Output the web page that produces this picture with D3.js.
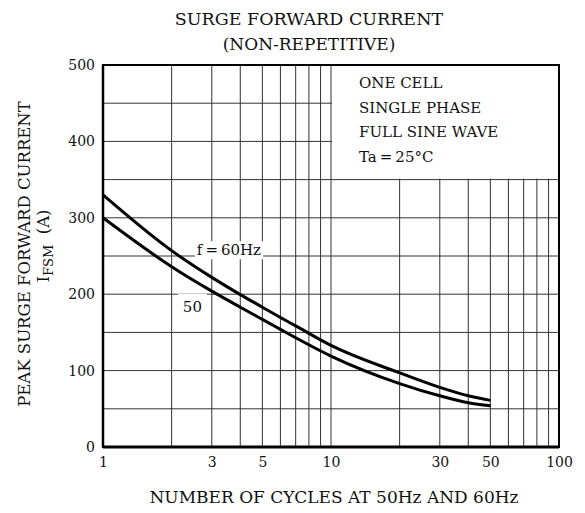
<!DOCTYPE html>
<html>
<head>
<meta charset="utf-8">
<script src="https://cdn.jsdelivr.net/npm/d3@7"></script>
<style>
  body { margin: 0; background: #fff; }
  text { font-family: "DejaVu Serif", "Liberation Serif", serif; fill: #111; }
</style>
</head>
<body>
<div id="chart"></div>
<script>
// surge current vs number of cycles
var cycles = [1, 2, 3, 4, 5, 6, 7, 10, 20, 30, 40, 50];
var ifsm60 = [330, 257, 222, 199.5, 183, 169.5, 158.5, 133, 97, 78, 67, 61];
var ifsm50 = [300, 236, 204, 183, 167, 154, 143, 119, 83, 67, 58, 54];

var xTicks = [1, 3, 5, 10, 30, 50, 100];
var yTicks = [0, 100, 200, 300, 400, 500];
var conditions = ["ONE CELL", "SINGLE PHASE", "FULL SINE WAVE", "Ta\u2009=\u200925\u00b0C"];

var svgWidth = 585, svgHeight = 513;
var margin = {top: 65, right: 26, bottom: 66, left: 103};
var width = svgWidth - margin.left - margin.right;
var height = svgHeight - margin.top - margin.bottom;

var svg = d3.select("#chart").append("svg")
  .attr("width", svgWidth)
  .attr("height", svgHeight);

var chartGroup = svg.append("g")
  .attr("transform", `translate(${margin.left}, ${margin.top})`);

var x = d3.scaleLog().domain([1, 100]).range([0, width]);
var y = d3.scaleLinear().domain([0, 500]).range([height, 0]);

// grid lines: every 50 A, and 1..9 per decade
var yGrid = d3.range(50, 500, 50);
var xGrid = [2, 3, 4, 5, 6, 7, 8, 9, 10, 20, 30, 40, 50, 60, 70, 80, 90];

chartGroup.append("g").selectAll("line")
  .data(yGrid).enter().append("line")
  .attr("x1", 0).attr("x2", width)
  .attr("y1", d => y(d)).attr("y2", d => y(d))
  .attr("stroke", "#333").attr("stroke-width", 1);

chartGroup.append("g").selectAll("line")
  .data(xGrid).enter().append("line")
  .attr("x1", d => x(d)).attr("x2", d => x(d))
  .attr("y1", 0).attr("y2", height)
  .attr("stroke", "#333").attr("stroke-width", 1);

// white area for the test conditions (hides grid)
chartGroup.append("rect")
  .attr("x", x(10) + 1)
  .attr("y", 0)
  .attr("width", width - x(10) - 1)
  .attr("height", y(350) - 1)
  .attr("fill", "#fff");

chartGroup.append("g").selectAll("text")
  .data(conditions).enter().append("text")
  .attr("x", x(10) + 28)
  .attr("y", (d, i) => 23 + i * 24.5)
  .attr("font-size", 15)
  .text(d => d);

// curves
var line = d3.line()
  .x(d => x(d[0]))
  .y(d => y(d[1]))
  .curve(d3.curveMonotoneX);

[ifsm60, ifsm50].forEach(function(vals) {
  chartGroup.append("path")
    .datum(cycles.map((c, i) => [c, vals[i]]))
    .attr("d", line)
    .attr("fill", "none")
    .attr("stroke", "#000")
    .attr("stroke-width", 3);
});

// curve labels with white backing
function curveLabel(txt, cx, cy, padX, padTop) {
  var t = chartGroup.append("text")
    .attr("x", x(cx))
    .attr("y", y(cy))
    .attr("font-size", 15)
    .text(txt);
  var bb = t.node().getBBox();
  chartGroup.insert("rect", () => t.node())
    .attr("x", bb.x - padX)
    .attr("y", bb.y - padTop)
    .attr("width", bb.width + 2 * padX)
    .attr("height", bb.height + padTop)
    .attr("fill", "#fff");
}
curveLabel("f\u2009=\u200960Hz", 2.58, 251, 2, 0);
curveLabel("50", 2.24, 177, 5, 4);

// frame
chartGroup.append("rect")
  .attr("width", width).attr("height", height)
  .attr("fill", "none").attr("stroke", "#000").attr("stroke-width", 2);
chartGroup.append("line")
  .attr("x1", 0).attr("x2", width).attr("y1", height).attr("y2", height)
  .attr("stroke", "#000").attr("stroke-width", 3);
chartGroup.append("line")
  .attr("x1", 0).attr("x2", 0).attr("y1", 0).attr("y2", height)
  .attr("stroke", "#000").attr("stroke-width", 2.5);

// axes (labels only)
var bottomAxis = d3.axisBottom(x).tickValues(xTicks).tickFormat(d3.format("d")).tickSize(0).tickPadding(10);
var leftAxis = d3.axisLeft(y).tickValues(yTicks).tickSize(0).tickPadding(8);

var xAxisG = chartGroup.append("g")
  .attr("transform", `translate(0, ${height})`)
  .call(bottomAxis);
var yAxisG = chartGroup.append("g").call(leftAxis);
[xAxisG, yAxisG].forEach(function(g) {
  g.select(".domain").remove();
  g.selectAll("text").attr("font-size", 14).attr("font-family", "DejaVu Serif, serif").attr("fill", "#111");
});

// titles
svg.append("text")
  .attr("x", 309)
  .attr("y", 25)
  .attr("text-anchor", "middle")
  .attr("font-size", 17.5)
  .text("SURGE FORWARD CURRENT");
svg.append("text")
  .attr("x", 309)
  .attr("y", 50)
  .attr("text-anchor", "middle")
  .attr("font-size", 17)
  .text("(NON-REPETITIVE)");

svg.append("text")
  .attr("x", 334)
  .attr("y", 503)
  .attr("text-anchor", "middle")
  .attr("font-size", 17)
  .text("NUMBER OF CYCLES AT 50Hz AND 60Hz");

svg.append("text")
  .attr("transform", "translate(30, 254) rotate(-90)")
  .attr("text-anchor", "middle")
  .attr("font-size", 16.5)
  .text("PEAK SURGE FORWARD CURRENT");

var iLabel = svg.append("text")
  .attr("transform", "translate(49, 246) rotate(-90)")
  .attr("text-anchor", "middle")
  .attr("font-size", 16.5);
iLabel.append("tspan").text("I");
iLabel.append("tspan").attr("dy", 4).attr("font-size", 13).text("FSM");
iLabel.append("tspan").attr("dy", -4).text("\u00a0\u00a0(A)");
</script>
</body>
</html>
